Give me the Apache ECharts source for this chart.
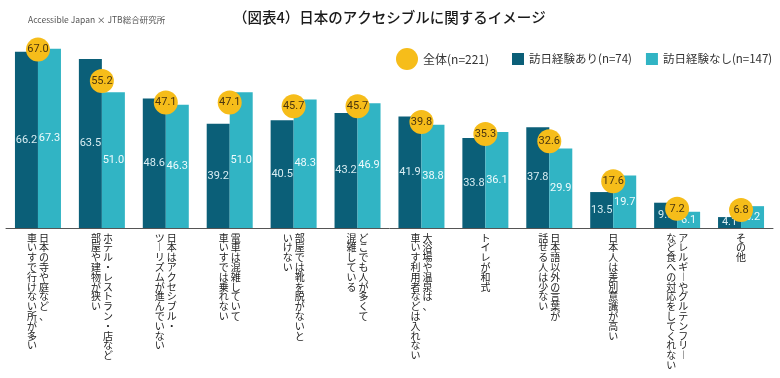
<!DOCTYPE html>
<html>
<head>
<meta charset="utf-8">
<script src="https://cdn.jsdelivr.net/npm/echarts@6/dist/echarts.min.js"></script>
<style>
html,body{margin:0;padding:0;background:#fff;}
#chart{width:780px;height:378px;}
</style>
</head>
<body>
<div id="chart"></div>
<script>
const categories = [
  "日本の寺や庭など、\n車いすで行けない所が多い",
  "ホテル・レストラン・店など\n部屋や建物が狭い",
  "日本はアクセシブル・\nツーリズムが進んでいない",
  "電車は混雑していて\n車いすでは乗れない",
  "部屋では靴を脱がないと\nいけない",
  "どこでも人が多くて\n混雑している",
  "大浴場や温泉は、\n車いす利用者などは入れない",
  "トイレが和式",
  "日本語以外の言葉が\n話せる人は少ない",
  "日本人は差別意識が高い",
  "アレルギーやグルテンフリー\nなど食への対応をしてくれない",
  "その他"
];
const seriesNames = ["全体(n=221)", "訪日経験あり(n=74)", "訪日経験なし(n=147)"];
const totalValues = [67.0, 55.2, 47.1, 47.1, 45.7, 45.7, 39.8, 35.3, 32.6, 17.6, 7.2, 6.8];
const visitedValues = [66.2, 63.5, 48.6, 39.2, 40.5, 43.2, 41.9, 33.8, 37.8, 13.5, 9.5, 4.1];
const notVisitedValues = [67.3, 51.0, 46.3, 51.0, 48.3, 46.9, 38.8, 36.1, 29.9, 19.7, 6.1, 8.2];

function verticalText(s) {
  const cols = s.split("\n").map(c => Array.from(c.replace(/ー/g, "︱")));
  const n = Math.max(...cols.map(c => c.length));
  const order = cols.slice().reverse();
  const rows = [];
  for (let i = 0; i < n; i++) {
    rows.push(order.map(c => c[i] || "\u3000").join("\u2009"));
  }
  return rows.join("\n");
}

const chart = echarts.init(document.getElementById("chart"), null, {renderer: "canvas"});
const numFont = "Roboto";
chart.setOption({
  backgroundColor: "#ffffff",
  animation: false,
  title: [
    {
      text: "（図表4）日本のアクセシブルに関するイメージ",
      left: 228, top: 5,
      textStyle: {fontFamily: "Noto Sans CJK JP", fontSize: 14.5, fontWeight: 500, color: "#1a1a1a"}
    },
    {
      text: "Accessible Japan × JTB総合研究所",
      left: 23, top: 11,
      textStyle: {fontFamily: "Noto Sans CJK JP", fontSize: 8.5, fontWeight: "normal", color: "#555"}
    }
  ],
  legend: [
    {
      data: [seriesNames[0]],
      orient: "horizontal",
      left: 391, top: 43,
      itemWidth: 22, itemHeight: 22,
      textStyle: {fontFamily: "Noto Sans CJK JP", fontSize: 12, color: "#333"}
    },
    {
      data: [seriesNames[1], seriesNames[2]],
      orient: "horizontal",
      left: 507, top: 48, width: 300,
      itemWidth: 12, itemHeight: 12, itemGap: 14,
      icon: "rect",
      textStyle: {fontFamily: "Noto Sans CJK JP", fontSize: 11.5, color: "#333"}
    }
  ],
  grid: {left: 6, right: 7, top: 15, bottom: 150, containLabel: false},
  xAxis: {
    type: "category",
    data: categories,
    axisLine: {lineStyle: {color: "#555", width: 1}},
    axisTick: {show: false},
    axisLabel: {
      interval: 0,
      margin: 5,
      formatter: verticalText,
      fontFamily: "Noto Sans CJK JP",
      fontSize: 10,
      lineHeight: 9.8,
      color: "#222",
      verticalAlign: "top"
    }
  },
  yAxis: {
    type: "value", min: 0, max: 80,
    show: false,
    splitLine: {show: false}
  },
  series: [
    {
      name: seriesNames[1],
      type: "bar",
      data: visitedValues,
      barWidth: 23,
      barGap: "0%",
      itemStyle: {color: "#0b5f78"},
      label: {show: true, position: "inside", formatter: p => p.value.toFixed(1),
        fontFamily: numFont, fontSize: 11, color: "#d8edf2"}
    },
    {
      name: seriesNames[2],
      type: "bar",
      data: notVisitedValues,
      barWidth: 23,
      barGap: "0%",
      itemStyle: {color: "#31b4c4"},
      label: {show: true, position: "inside", formatter: p => p.value.toFixed(1),
        fontFamily: numFont, fontSize: 11, color: "#eefafc"}
    },
    {
      name: seriesNames[0],
      type: "scatter",
      data: totalValues,
      symbol: "circle",
      symbolSize: 24,
      z: 5,
      itemStyle: {color: "#f6bd1a", opacity: 1},
      label: {show: true, position: "inside", formatter: p => p.value.toFixed(1),
        fontFamily: numFont, fontSize: 11, color: "#4a3510"}
    }
  ]
});
</script>
</body>
</html>
